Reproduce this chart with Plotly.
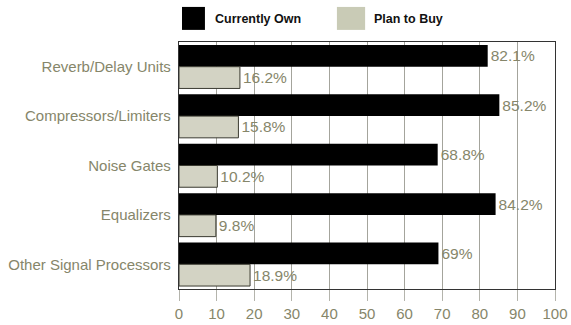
import plotly.graph_objects as go

categories = ["Reverb/Delay Units", "Compressors/Limiters", "Noise Gates",
              "Equalizers", "Other Signal Processors"]
currently_own = [82.1, 85.2, 68.8, 84.2, 69]
plan_to_buy = [16.2, 15.8, 10.2, 9.8, 18.9]
own_labels = ["82.1%", "85.2%", "68.8%", "84.2%", "69%"]
buy_labels = ["16.2%", "15.8%", "10.2%", "9.8%", "18.9%"]
tick_vals = [0, 10, 20, 30, 40, 50, 60, 70, 80, 90, 100]

TEXT = "#86866a"
FONT = "Liberation Sans, Arial, sans-serif"

fig = go.Figure()
fig.add_trace(go.Bar(
    y=categories, x=currently_own, orientation="h", name="Currently Own",
    marker=dict(color="#000000", line=dict(width=0)),
    text=own_labels, textposition="outside", cliponaxis=False,
    textfont=dict(color=TEXT, size=15.5, family=FONT),
))
fig.add_trace(go.Bar(
    y=categories, x=plan_to_buy, orientation="h", name="Plan to Buy",
    marker=dict(color="#d3d3c4", line=dict(width=1, color="#3a3a30")),
    text=buy_labels, textposition="outside", cliponaxis=False,
    textfont=dict(color=TEXT, size=15.5, family=FONT),
))

# hand-drawn legend swatches above the plot
legend_items = [("Currently Own", "#000000", 0.008, 0.069, 0.090),
                ("Plan to Buy", "#c9cbb6", 0.420, 0.495, 0.513)]
for name, color, x0, x1, tx in legend_items:
    fig.add_shape(type="rect", xref="paper", yref="paper",
                  x0=x0, x1=x1, y0=1.049, y1=1.142,
                  fillcolor=color, line=dict(width=0))
    fig.add_annotation(xref="paper", yref="paper", x=tx, y=1.095,
                       xanchor="left", yanchor="middle", showarrow=False,
                       text="<b>" + name + "</b>",
                       font=dict(family=FONT, size=12.5, color="#111111"))

fig.update_layout(
    width=571, height=325,
    margin=dict(l=179, r=16, t=42, b=36, autoexpand=False),
    paper_bgcolor="white", plot_bgcolor="white",
    barmode="group", bargap=0.12, bargroupgap=0.0,
    showlegend=False,
    font=dict(family=FONT, color=TEXT, size=15),
)
fig.update_xaxes(
    range=[0, 100], tickvals=tick_vals, showgrid=True, gridcolor="#a4a49c",
    gridwidth=1, showline=True, linecolor="#333333", linewidth=1, mirror=True,
    ticks="outside", ticklen=11, tickcolor="#b4b4ac", tickwidth=1,
    automargin=False,
    tickfont=dict(size=15, color=TEXT, family=FONT), zeroline=False,
)
fig.update_yaxes(
    autorange="reversed", showline=True, linecolor="#333333", linewidth=1,
    mirror=True, ticks="", ticksuffix=" ", automargin=False,
    tickfont=dict(size=15, color=TEXT, family=FONT),
)

fig.write_html("out.html")
